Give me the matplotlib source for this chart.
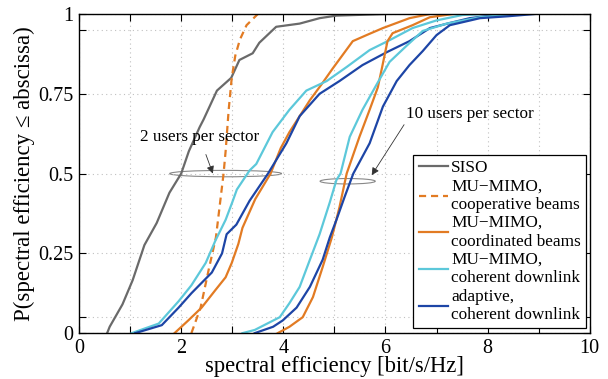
import numpy as np
import matplotlib
matplotlib.use('Agg')
import matplotlib.pyplot as plt
from matplotlib.patches import Ellipse

plt.rcParams['font.family'] = ['Liberation Serif', 'DejaVu Serif']

# CDF curves (spectral efficiency, probability)
siso_x = [0.55, 0.6, 0.85, 1.05, 1.28, 1.52, 1.77, 2.0, 2.15, 2.36, 2.44, 2.7, 2.98, 3.14, 3.4, 3.53, 3.86, 4.32, 4.71, 5.04, 6.0]
siso_y = [0, 0.02, 0.09, 0.166, 0.276, 0.345, 0.44, 0.5, 0.57, 0.645, 0.67, 0.76, 0.80, 0.856, 0.877, 0.91, 0.96, 0.97, 0.987, 0.995, 1.0]

coop_x = [2.2, 2.38, 2.54, 2.68, 2.77, 2.83, 2.87, 2.93, 2.99, 3.06, 3.15, 3.28, 3.5]
coop_y = [0, 0.08, 0.2, 0.3, 0.42, 0.5, 0.57, 0.7, 0.8, 0.87, 0.92, 0.965, 1.0]

coord2_x = [1.87, 2.14, 2.4, 2.67, 2.87, 2.99, 3.12, 3.2, 3.45, 3.75, 3.95, 4.12, 4.52, 4.75, 4.97, 5.36, 5.63, 5.95, 6.47, 6.87]
coord2_y = [0, 0.04, 0.08, 0.135, 0.175, 0.22, 0.28, 0.33, 0.42, 0.5, 0.58, 0.63, 0.73, 0.78, 0.83, 0.915, 0.934, 0.956, 0.987, 1.0]

coh2_x = [1.03, 1.56, 1.95, 2.2, 2.48, 2.67, 2.87, 3.0, 3.09, 3.34, 3.47, 3.79, 4.12, 4.45, 4.85, 5.24, 5.69, 6.08, 6.53, 7.0, 7.51, 8.0]
coh2_y = [0, 0.03, 0.10, 0.15, 0.22, 0.29, 0.355, 0.41, 0.45, 0.51, 0.53, 0.63, 0.70, 0.76, 0.79, 0.834, 0.887, 0.918, 0.956, 0.98, 0.997, 1.0]

adap2_x = [1.1, 1.62, 1.95, 2.2, 2.6, 2.8, 2.89, 3.08, 3.34, 3.7, 4.06, 4.32, 4.71, 5.1, 5.55, 6.02, 6.47, 6.87, 7.26, 7.65, 8.3]
adap2_y = [0, 0.025, 0.08, 0.125, 0.19, 0.25, 0.31, 0.34, 0.415, 0.5, 0.595, 0.68, 0.75, 0.79, 0.84, 0.88, 0.915, 0.956, 0.972, 0.987, 1.0]

coord10_x = [3.89, 4.12, 4.38, 4.58, 4.77, 4.95, 5.1, 5.24, 5.49, 5.69, 5.85, 5.93, 6.04, 6.14, 6.53, 6.87, 7.32]
coord10_y = [0, 0.02, 0.05, 0.113, 0.207, 0.3, 0.395, 0.5, 0.615, 0.70, 0.77, 0.83, 0.915, 0.94, 0.965, 0.99, 1.0]

coh10_x = [3.2, 3.44, 3.93, 4.12, 4.32, 4.52, 4.71, 4.91, 5.04, 5.12, 5.3, 5.55, 5.83, 6.08, 6.41, 6.73, 7.2, 7.85, 8.57]
coh10_y = [0, 0.01, 0.05, 0.094, 0.145, 0.23, 0.31, 0.41, 0.48, 0.5, 0.615, 0.70, 0.78, 0.85, 0.9, 0.947, 0.97, 0.99, 1.0]

adap10_x = [3.44, 3.8, 3.99, 4.26, 4.52, 4.77, 4.91, 5.04, 5.2, 5.37, 5.69, 5.95, 6.22, 6.47, 6.73, 7.0, 7.26, 7.85, 8.4, 8.92]
adap10_y = [0, 0.02, 0.04, 0.08, 0.145, 0.23, 0.3, 0.355, 0.427, 0.5, 0.595, 0.71, 0.79, 0.84, 0.884, 0.934, 0.965, 0.987, 0.993, 1.0]

labels = ['SISO', 'MU\u2212MIMO,\ncooperative beams', 'MU\u2212MIMO,\ncoordinated beams',
          'MU\u2212MIMO,\ncoherent downlink', 'adaptive,\ncoherent downlink']

xticks = [0, 1, 2, 3, 4, 5, 6, 7, 8, 9, 10]
xticklabels = ['0', '', '2', '', '4', '', '6', '', '8', '', '10']
yticks = [0, 0.05, 0.25, 0.5, 0.75, 0.95, 1]
yticklabels = ['0', '', '0.25', '0.5', '0.75', '', '1']

gray = '#6a6a6a'
orange = '#e27b23'
cyan = '#5cc8da'
blue = '#1d45a6'
lw = 1.6

fig = plt.figure(figsize=(6.08, 3.79), dpi=100)
ax = fig.add_axes([0.130, 0.121, 0.840, 0.842])

ax.plot(siso_x, siso_y, color=gray, lw=lw, label=labels[0])
ax.plot(coop_x, coop_y, color=orange, lw=lw, ls=(0, (3.2, 2.2)), label=labels[1])
ax.plot(coord2_x, coord2_y, color=orange, lw=lw, label=labels[2])
ax.plot(coh2_x, coh2_y, color=cyan, lw=lw, label=labels[3])
ax.plot(adap2_x, adap2_y, color=blue, lw=lw, label=labels[4])
ax.plot(coord10_x, coord10_y, color=orange, lw=lw)
ax.plot(coh10_x, coh10_y, color=cyan, lw=lw)
ax.plot(adap10_x, adap10_y, color=blue, lw=lw)

ax.set_xlim(0, 10)
ax.set_ylim(0, 1)
ax.set_xticks(xticks)
ax.set_xticklabels(xticklabels)
ax.set_yticks(yticks)
ax.set_yticklabels(yticklabels)
ax.tick_params(direction='in', top=True, right=True, labelsize=14.5, length=5, width=0.8, pad=4)
ax.grid(True, ls=(0, (1, 3)), color='#c0c0c0', lw=0.8)
for s in ax.spines.values():
    s.set_linewidth(1.0)

ax.set_xlabel('spectral efficiency [bit/s/Hz]', fontsize=16.3, labelpad=-1)
ax.set_ylabel('P(spectral efficiency \u2264 abscissa)', fontsize=16.5, labelpad=2)

# annotations
ax.add_patch(Ellipse((2.87, 0.5), 2.19, 0.02, fill=False, ec='#888888', lw=0.8))
ax.add_patch(Ellipse((5.26, 0.476), 1.08, 0.017, fill=False, ec='#888888', lw=0.8))
ax.annotate('2 users per sector', xy=(2.62, 0.5), xytext=(2.36, 0.614), ha='center', va='center',
            fontsize=12.3, arrowprops=dict(arrowstyle='-|>', color='#333333', lw=0.6, shrinkA=5, shrinkB=0,
                                           mutation_scale=11))
ax.annotate('10 users per sector', xy=(5.73, 0.495), xytext=(7.65, 0.687), ha='center', va='center',
            fontsize=12.3, arrowprops=dict(arrowstyle='-|>', color='#333333', lw=0.6, shrinkA=0, shrinkB=0,
                                           mutation_scale=11, relpos=(0.0, 0.0)))

leg = ax.legend(loc='lower right', bbox_to_anchor=(0.993, 0.015), borderaxespad=0, fontsize=12.4,
                handlelength=1.7, handletextpad=0.2, labelspacing=0.12, borderpad=0.3,
                fancybox=False, framealpha=1, edgecolor='black')
leg.get_frame().set_linewidth(0.9)
for t in leg.get_texts():
    t.set_linespacing(1.22)

fig.savefig('out.png', dpi=100)
